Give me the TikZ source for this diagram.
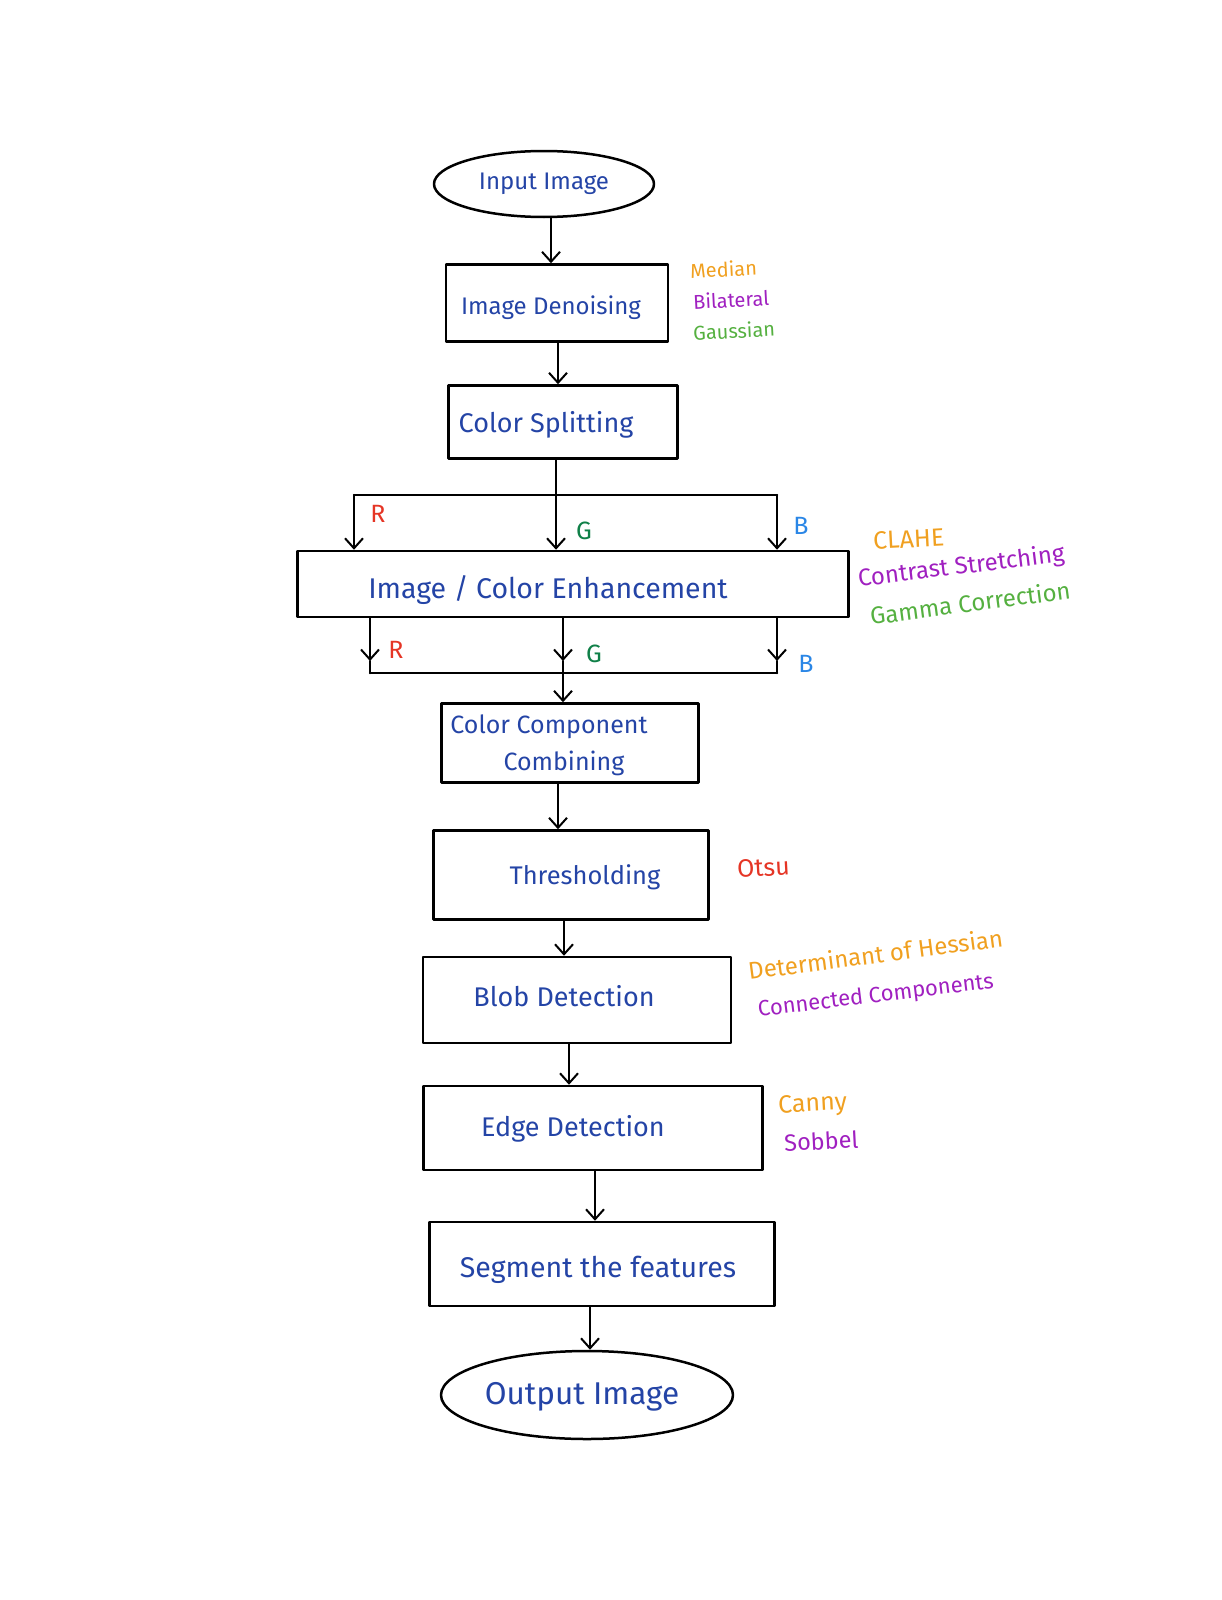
\documentclass[tikz,border=0pt]{standalone}
\usepackage{fontspec}
\setmainfont{Fira Sans}
\usetikzlibrary{arrows.meta,shapes.geometric}
\definecolor{inkblue}{HTML}{2444A6}
\definecolor{annorange}{HTML}{F0A020}
\definecolor{annpurple}{HTML}{A020C0}
\definecolor{anngreen}{HTML}{55B040}
\definecolor{annred}{HTML}{E53525}
\definecolor{gdark}{HTML}{108048}
\definecolor{bblue}{HTML}{2A86E6}
\newcommand{\fs}[1]{\fontsize{#1}{#1}\selectfont}
\tikzset{
  x=1pt,y=-1pt,
  every path/.style={line width=2.5pt,line cap=round,line join=round},
  arr/.style={-{Straight Barb[length=10pt,width=18pt,line width=2pt]}},
  procbox/.style={draw,rectangle,inner sep=0pt},
  term/.style={draw,ellipse,inner sep=0pt},
  lbl/.style={text=inkblue,inner sep=0pt,align=center},
  ann/.style={anchor=west,rotate=3,inner sep=0pt},
  sml/.style={font=\fs{25},inner sep=0pt}
}
\begin{document}
\begin{tikzpicture}
\useasboundingbox (0,0) rectangle (1222,1600);
% shapes
\node[term,minimum width=220,minimum height=66] (in) at (544,184) {};
\node[procbox,minimum width=222,minimum height=77] (den) at (557,303) {};
\node[procbox,minimum width=229,minimum height=73] (spl) at (563,422) {};
\node[procbox,minimum width=551,minimum height=66] (enh) at (573,584) {};
\node[procbox,minimum width=257,minimum height=79] (comb) at (570,743) {};
\node[procbox,minimum width=275,minimum height=89] (thr) at (571,875) {};
\node[procbox,minimum width=308,minimum height=86] (blob) at (577,1000) {};
\node[procbox,minimum width=339,minimum height=84] (edge) at (593,1128) {};
\node[procbox,minimum width=345,minimum height=84] (seg) at (602,1264) {};
\node[term,minimum width=292,minimum height=88] (out) at (587,1395) {};
% texts
\node[lbl,font=\fs{24}] (tin) at (544,184) {Input Image};
\node[lbl,font=\fs{24}] (tden) at (551,308) {Image Denoising};
\node[lbl,font=\fs{27}] (tspl) at (546,425) {Color Splitting};
\node[lbl,font=\fs{28.5}] (tenh) at (548,590) {Image / Color Enhancement};
\node[lbl,font=\fs{25}] (tcomb1) at (549,727) {Color Component};
\node[lbl,font=\fs{25}] (tcomb2) at (564,763) {Combining};
\node[lbl,font=\fs{25.5}] (tthr) at (585,877) {Thresholding};
\node[lbl,font=\fs{27}] (tblob) at (564,996) {Blob Detection};
\node[lbl,font=\fs{27}] (tedge) at (573,1129) {Edge Detection};
\node[lbl,font=\fs{28.5}] (tseg) at (598,1270) {Segment the features};
\node[lbl,font=\fs{31.5}] (tout) at (582,1397) {Output Image};
% main chain
\draw[arr] (in.south -| 551,0) -- (551,0 |- den.north);
\draw[arr] (den.south -| 558,0) -- (558,0 |- spl.north);
% split
\coordinate (sj) at (556,495);
\coordinate (sl) at (354,495);
\coordinate (sr) at (777,495);
\draw (spl.south -| sj) -- (sj);
\draw (sl) -- (sr);
\draw[arr] (sl) -- (sl |- enh.north);
\draw[arr] (sj) -- (sj |- enh.north);
\draw[arr] (sr) -- (sr |- enh.north);
\node[sml,text=annred] (rt) at (378,514) {R};
\node[sml,text=gdark] (gt) at (584,531) {G};
\node[sml,text=bblue] (bt) at (801,526) {B};
% merge
\coordinate (ml) at (370,673);
\coordinate (mm) at (563,673);
\coordinate (mr) at (777,673);
\draw[arr] (enh.south -| ml) -- (370,661);
\draw (370,661) -- (ml);
\draw[arr] (enh.south -| mm) -- (563,661);
\draw (563,661) -- (mm);
\draw[arr] (enh.south -| mr) -- (777,661);
\draw (777,661) -- (mr);
\draw (ml) -- (mr);
\draw[arr] (mm) -- (mm |- comb.north);
\node[sml,text=annred] (rb) at (396,650) {R};
\node[sml,text=gdark] (gb) at (594,654) {G};
\node[sml,text=bblue] (bb) at (806,664) {B};
% rest of chain
\draw[arr] (comb.south -| 558,0) -- (558,0 |- thr.north);
\draw[arr] (thr.south -| 564,0) -- (564,0 |- blob.north);
\draw[arr] (blob.south -| 569,0) -- (569,0 |- edge.north);
\draw[arr] (edge.south -| 595,0) -- (595,0 |- seg.north);
\draw[arr] (seg.south -| 590,0) -- (590,0 |- out.north);
% annotations
\node[ann,text=annorange,font=\fs{20}] (a1) at (689,271) {Median};
\node[ann,text=annpurple,font=\fs{20}] (a2) at (692,302) {Bilateral};
\node[ann,text=anngreen,font=\fs{20}] (a3) at (692,333) {Gaussian};
\node[ann,text=annorange,font=\fs{25},rotate=0] (b1) at (872,541) {CLAHE};
\node[ann,text=annpurple,font=\fs{24},rotate=4] (b2) at (857,580) {Contrast Stretching};
\node[ann,text=anngreen,font=\fs{24},rotate=4.5] (b3) at (869,616) {Gamma Correction};
\node[ann,text=annred,font=\fs{25},rotate=0] (c1) at (736,869) {Otsu};
\node[ann,text=annorange,font=\fs{24},rotate=4.5] (d1) at (747,971) {Determinant of Hessian};
\node[ann,text=annpurple,font=\fs{22},rotate=4] (d2) at (757,1011) {Connected Components};
\node[ann,text=annorange,font=\fs{25},rotate=0] (e1) at (777,1107) {Canny};
\node[ann,text=annpurple,font=\fs{23.5},rotate=0] (e2) at (783,1143) {Sobbel};
\end{tikzpicture}
\end{document}
